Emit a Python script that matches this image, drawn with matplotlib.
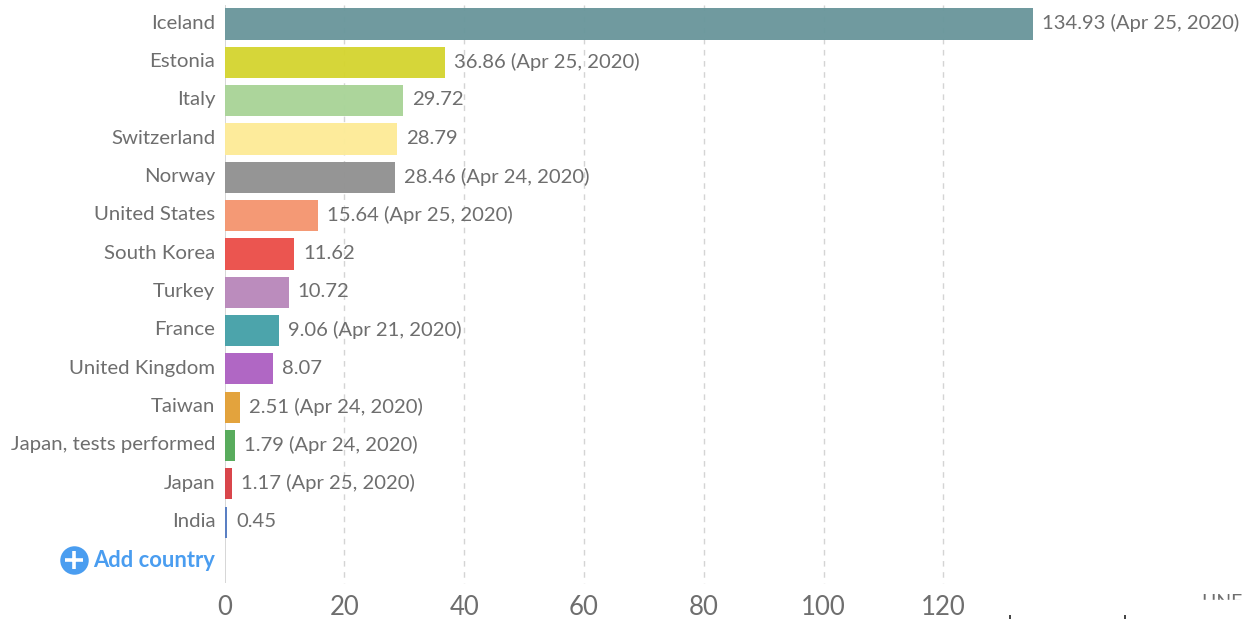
import matplotlib
matplotlib.use('Agg')
import matplotlib.pyplot as plt

plt.rcParams['font.family'] = ['Lato', 'DejaVu Sans']

# Datos
paises = ['Iceland', 'Estonia', 'Italy', 'Switzerland', 'Norway', 'United States',
          'South Korea', 'Turkey', 'France', 'United Kingdom', 'Taiwan',
          'Japan, tests performed', 'Japan', 'India']
valores = [134.93, 36.86, 29.72, 28.79, 28.46, 15.64, 11.62, 10.72, 9.06, 8.07,
           2.51, 1.79, 1.17, 0.45]
fechas = ['Apr 25, 2020', 'Apr 25, 2020', '', '', 'Apr 24, 2020', 'Apr 25, 2020',
          '', '', 'Apr 21, 2020', '', 'Apr 24, 2020', 'Apr 24, 2020', 'Apr 25, 2020', '']
colores = ['#6b979c', '#d5d532', '#a9d498', '#fdeb98', '#929292', '#f49670', '#eb4f4a',
           '#b988bb', '#46a1a8', '#ae62c2', '#e2a036', '#54aa58', '#d84045', '#567cc2']
ticks = [0, 20, 40, 60, 80, 100, 120]

GRIS = '#6e6e6e'
AZUL = '#4a9df0'
W, H = 1242, 619
X0 = 224.5      # pixel del cero
PX_X = 5.99     # pixeles por unidad
Y0 = 24         # pixel de la primera fila
PX_Y = 38.33    # pixeles por fila

fig = plt.figure(figsize=(W / 100, H / 100), dpi=100)
ax = fig.add_axes([X0 / W, 0, 1 - X0 / W, 1])
ax.set_xlim(0, (W - X0) / PX_X)
ax.set_ylim((H - Y0) / PX_Y, -Y0 / PX_Y)
ax.axis('off')

# Rejilla y eje
fondo = (583 - Y0) / PX_Y
ax.vlines(ticks[1:], -0.5, fondo, color='#d4d4d4', lw=1, ls=(0, (4, 4)), zorder=1)
ax.vlines(0, -0.5, fondo, color='#cfcfcf', lw=1.2, zorder=1)

filas = list(range(len(paises)))
ax.barh(filas, valores, height=0.81, color=colores, alpha=0.97, zorder=2)

for i, pais in enumerate(paises):
    ax.annotate(pais, (0, i), xytext=(-6.5, 0.5), textcoords='offset points',
                ha='right', va='center', fontsize=14.7, color=GRIS)
    texto = f'{valores[i]:.2f}'
    if fechas[i]:
        texto += f' ({fechas[i]})'
    ax.annotate(texto, (valores[i], i), xytext=(6.5, 0.5), textcoords='offset points',
                ha='left', va='center', fontsize=14.6, color=GRIS, zorder=3)

# Boton de agregar pais
fila_add = (560 - Y0) / PX_Y
ax.annotate('Add country', (0, fila_add), xytext=(-6.5, -0.5), textcoords='offset points',
            ha='right', va='center', fontsize=15.8, fontweight='bold', color=AZUL)
x_boton = (74 - X0) / PX_X
ax.plot([x_boton], [fila_add], marker='o', ms=20.5, color=AZUL, mew=0, clip_on=False)
ax.plot([x_boton], [fila_add], marker='+', ms=13, color='white', mew=2.6, clip_on=False)

# Etiquetas del eje
fila_tick = (608 - Y0) / PX_Y
for t in ticks:
    ax.text(t, fila_tick, str(t), ha='center', va='center', fontsize=18.5, color=GRIS)

# Restos de texto recortado abajo a la derecha
fig.text(1201 / W, 1 - 594 / H, 'LINE', ha='left', va='top', fontsize=14, color=GRIS)
fig.patches.append(plt.Rectangle((1190 / W, 0), 52 / W, (H - 600) / H,
                                 transform=fig.transFigure, color='white', zorder=5, figure=fig))
for x_px in [1010, 1125]:
    ax.vlines((x_px - X0) / PX_X, (615.5 - Y0) / PX_Y, (H - Y0) / PX_Y, color='#222222', lw=1.2)

fig.savefig('out.png', dpi=100, facecolor='white')
